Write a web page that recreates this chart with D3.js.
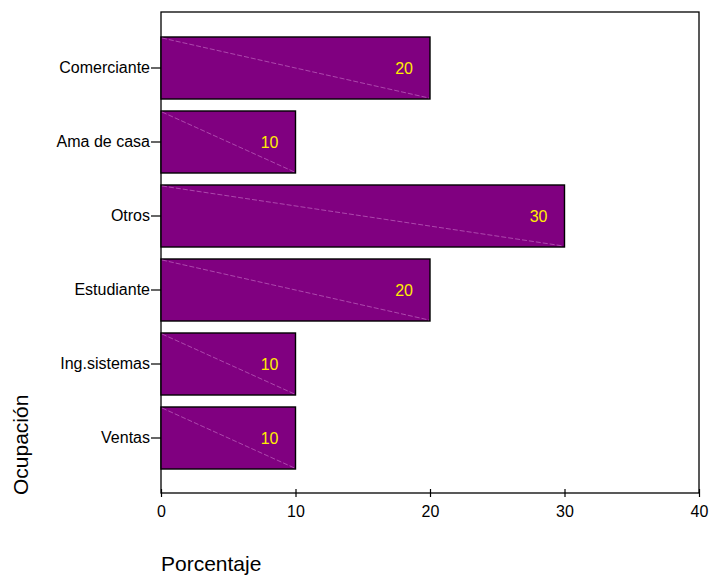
<!DOCTYPE html>
<html>
<head>
<meta charset="utf-8">
<script src="https://cdn.jsdelivr.net/npm/d3@7"></script>
<style>
  html, body { margin: 0; padding: 0; background: #fff; }
  svg { display: block; font-family: Arial, "Liberation Sans", sans-serif; }
</style>
</head>
<body>
<svg id="chart" width="711" height="576"></svg>
<script>
// Occupation categories, top to bottom
const categories = ["Comerciante", "Ama de casa", "Otros", "Estudiante", "Ing.sistemas", "Ventas"];
// Percentage per occupation
const values = [20, 10, 30, 20, 10, 10];
// Horizontal axis ticks
const xTicks = [0, 10, 20, 30, 40];

const svg = d3.select("#chart");
const frame = { left: 161, right: 699, top: 12, bottom: 493 };

const x = d3.scaleLinear().domain([0, 40]).range([frame.left, frame.right]);
const y = d3.scaleBand()
  .domain(categories)
  .range([31, 475])
  .paddingInner(0.162)
  .paddingOuter(0.081);

// Plot frame
svg.append("rect")
  .attr("x", frame.left).attr("y", frame.top)
  .attr("width", frame.right - frame.left)
  .attr("height", frame.bottom - frame.top)
  .attr("fill", "none").attr("stroke", "#000").attr("stroke-width", 1.3);

const rows = categories.map((c, i) => ({ cat: c, val: values[i] }));

const g = svg.append("g");
g.selectAll("rect.bar").data(rows).join("rect")
  .attr("class", "bar")
  .attr("x", x(0))
  .attr("y", d => y(d.cat))
  .attr("width", d => x(d.val) - x(0))
  .attr("height", y.bandwidth())
  .attr("fill", "#800080")
  .attr("stroke", "#000")
  .attr("stroke-width", 1.4);

// Thin diagonal hatch across each bar
g.selectAll("line.diag").data(rows).join("line")
  .attr("class", "diag")
  .attr("x1", x(0) + 1).attr("y1", d => y(d.cat) + 1)
  .attr("x2", d => x(d.val) - 1).attr("y2", d => y(d.cat) + y.bandwidth() - 1)
  .attr("stroke", "#d890d8")
  .attr("stroke-width", 0.5)
  .attr("stroke-dasharray", "5,2");

// Value labels inside the bars
g.selectAll("text.val").data(rows).join("text")
  .attr("class", "val")
  .attr("x", d => x(d.val) - 17)
  .attr("y", d => y(d.cat) + y.bandwidth() / 2)
  .attr("dy", "0.36em")
  .attr("text-anchor", "end")
  .attr("fill", "#ffee00")
  .attr("font-size", 16)
  .text(d => d.val);

// Y axis (category) ticks and labels
const yAxis = d3.axisLeft(y).tickSize(10).tickPadding(1);
const ya = svg.append("g").attr("transform", `translate(${frame.left},0)`).call(yAxis);
ya.select(".domain").remove();
ya.selectAll("line").attr("stroke", "#000").attr("stroke-width", 1.2);
ya.selectAll("text").attr("font-size", 16).attr("fill", "#000")
  .attr("font-family", "Arial, 'Liberation Sans', sans-serif");

// X axis ticks and labels
const xAxis = d3.axisBottom(x).tickValues(xTicks).tickSize(4).tickPadding(9);
const xa = svg.append("g").attr("transform", `translate(0,${frame.bottom})`).call(xAxis);
xa.select(".domain").remove();
xa.selectAll("line").attr("stroke", "#000").attr("stroke-width", 1.2).attr("y1", -4);
xa.selectAll("text").attr("font-size", 16).attr("fill", "#000")
  .attr("font-family", "Arial, 'Liberation Sans', sans-serif");

// Axis titles
svg.append("text")
  .attr("x", 161).attr("y", 571)
  .attr("font-size", 21).attr("fill", "#000")
  .text("Porcentaje");

svg.append("text")
  .attr("transform", "translate(28,495) rotate(-90)")
  .attr("font-size", 21).attr("fill", "#000")
  .text("Ocupación");
</script>
</body>
</html>
